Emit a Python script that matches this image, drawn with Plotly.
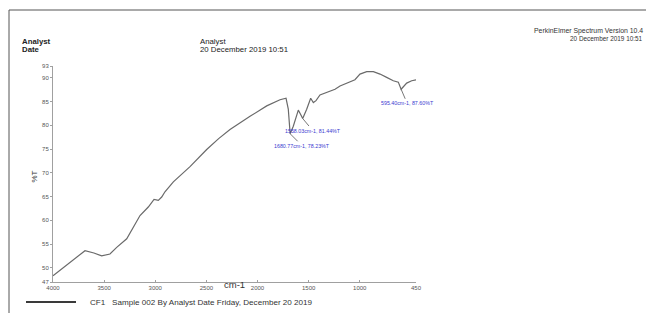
import plotly.graph_objects as go

# ---- data ----
wavenumber = [4000, 3900, 3800, 3687, 3600, 3524, 3443, 3377, 3279, 3149, 3068,
              3012, 2970, 2937, 2905, 2823, 2660, 2497, 2380, 2269, 2073, 1910,
              1780, 1721, 1699, 1680.77, 1650, 1601, 1578, 1558.03, 1519, 1480,
              1454, 1428, 1389, 1340, 1291, 1242, 1193, 1144, 1095, 1047, 998,
              932, 867, 802, 737, 672, 623, 595.40, 541, 492, 450]
transmittance = [48.3, 50.0, 51.7, 53.6, 53.1, 52.5, 52.9, 54.3, 56.1, 61.0, 62.8,
                 64.4, 64.2, 64.9, 66.0, 68.1, 71.3, 74.9, 77.2, 79.1, 81.9, 84.1,
                 85.4, 85.7, 83.4, 78.23, 79.8, 83.2, 82.3, 81.44, 83.4, 85.7,
                 84.8, 85.2, 86.4, 86.8, 87.1, 87.6, 88.3, 88.7, 89.1, 89.6, 90.8,
                 91.3, 91.3, 90.8, 90.1, 89.4, 89.1, 87.60, 88.9, 89.4, 89.6]

peak_wn = [1680.77, 1558.03, 595.40]
peak_t = [78.23, 81.44, 87.60]
peak_offsets = [(12, 12), (10, 12), (6, 14)]  # label offsets in px

x_tickvals = [4000, 3500, 3000, 2500, 2000, 1500, 1000, 450]
x_ticktext = ["4000", "3500", "3000", "2500", "2000", "1500", "1000", "450"]
y_tickvals = [47, 50, 55, 60, 65, 70, 75, 80, 85, 90, 92.5]
y_ticktext = ["47", "50", "55", "60", "65", "70", "75", "80", "85", "90", "93"]

# ---- layout geometry ----
W, H = 646, 313
L, R, T, B = 53, 230, 66, 31
PW, PH = W - L - R, H - T - B


def px(x):
    return (x - L) / PW


def py(y):
    return (H - B - y) / PH


FONT = "Liberation Sans, Arial, sans-serif"
GREY = "#a0a0a0"

fig = go.Figure()
fig.add_trace(go.Scatter(
    x=wavenumber, y=transmittance, mode="lines",
    line=dict(color="#6a6a6a", width=1.2), name="CF1",
    hoverinfo="x+y", showlegend=False))

for wnv, tv, (ax, ay) in zip(peak_wn, peak_t, peak_offsets):
    fig.add_annotation(
        x=wnv, y=tv, xref="x", yref="y",
        text=f"{wnv:.2f}cm-1, {tv:.2f}%T",
        showarrow=True, arrowhead=0, arrowwidth=0.8, arrowcolor="#555555",
        ax=ax, ay=ay, standoff=0, startstandoff=0,
        font=dict(family=FONT, size=5.3, color="#3a3ad0"))

# header texts
hdr = dict(xref="paper", yref="paper", showarrow=False, xanchor="left",
           yanchor="middle", font=dict(family=FONT, size=7.8, color="#222222"))
fig.add_annotation(x=px(20), y=py(41), text="<b>Analyst</b>", **hdr)
fig.add_annotation(x=px(20), y=py(50), text="<b>Date</b>", **hdr)
fig.add_annotation(x=px(198), y=py(41), text="Analyst", **hdr)
fig.add_annotation(x=px(198), y=py(50), text="20 December 2019 10:51", **hdr)
fig.add_annotation(x=px(645), y=py(31), text="PerkinElmer Spectrum Version 10.4",
                   xref="paper", yref="paper", showarrow=False, xanchor="right",
                   yanchor="middle", font=dict(family=FONT, size=6.9, color="#333333"))
fig.add_annotation(x=px(645), y=py(38.5), text="20 December 2019 10:51",
                   xref="paper", yref="paper", showarrow=False, xanchor="right",
                   yanchor="middle", font=dict(family=FONT, size=6.4, color="#333333"))

# y axis title and x axis title
fig.add_annotation(x=px(27), y=py(177), text="%T", textangle=-90, xref="paper",
                   yref="paper", showarrow=False,
                   font=dict(family=FONT, size=8, color="#333333"))
fig.add_annotation(x=px(235), y=py(292), text="cm-1", xref="paper", yref="paper",
                   showarrow=False, font=dict(family=FONT, size=9.5, color="#333333"))

# legend line + text
fig.add_shape(type="line", xref="paper", yref="paper", x0=px(26), x1=px(76),
              y0=py(302), y1=py(302), line=dict(color="#3a3a3a", width=1.8))
fig.add_annotation(x=px(88), y=py(302),
                   text="CF1&nbsp;&nbsp;&nbsp;Sample 002 By Analyst Date Friday, December 20 2019",
                   xref="paper", yref="paper", showarrow=False, xanchor="left",
                   yanchor="middle", font=dict(family=FONT, size=8.1, color="#333333"))

# outer frame (left and top lines)
fig.add_shape(type="line", xref="paper", yref="paper", x0=px(9), x1=px(9),
              y0=py(10), y1=py(330), line=dict(color="#555555", width=1))
fig.add_shape(type="line", xref="paper", yref="paper", x0=px(9), x1=px(700),
              y0=py(10), y1=py(10), line=dict(color="#555555", width=1))

fig.update_xaxes(
    range=[4000, 450], tickvals=x_tickvals, ticktext=x_ticktext,
    showgrid=False, zeroline=False, showline=True, linecolor=GREY, linewidth=1,
    ticks="inside", ticklen=2, tickcolor=GREY,
    tickfont=dict(family=FONT, size=6, color="#555555"))
fig.update_yaxes(
    range=[47, 92.5], tickvals=y_tickvals, ticktext=y_ticktext,
    showgrid=False, zeroline=False, showline=True, linecolor=GREY, linewidth=1,
    ticks="outside", ticklen=2, tickcolor=GREY,
    tickfont=dict(family=FONT, size=6, color="#555555"))

fig.update_layout(
    width=W, height=H, margin=dict(l=L, r=R, t=T, b=B, pad=0),
    paper_bgcolor="white", plot_bgcolor="white", showlegend=False)

fig.write_html("out.html", config={"displayModeBar": False},
               post_script="document.body.style.margin='0';"
                           "document.body.style.overflow='hidden';")
